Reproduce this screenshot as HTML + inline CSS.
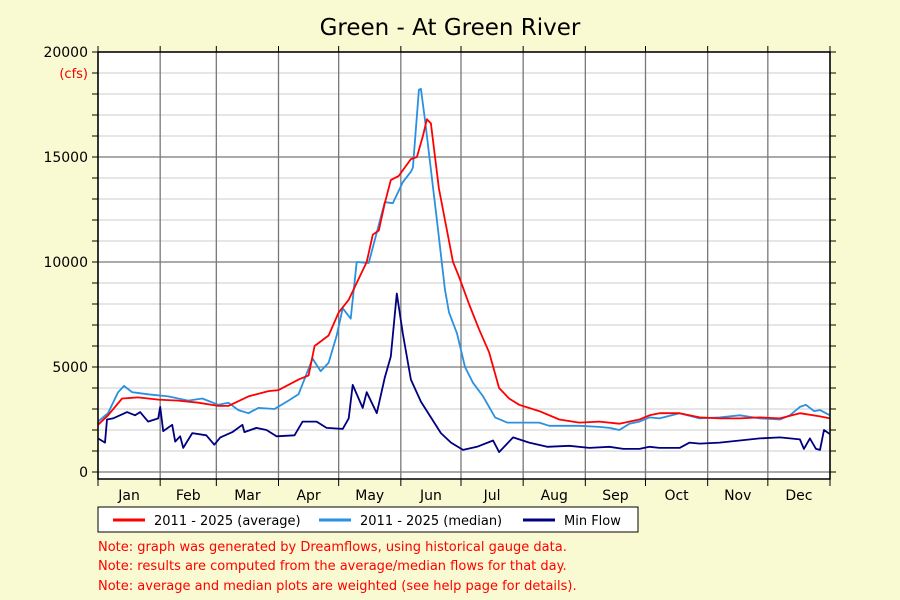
<!DOCTYPE html>
<html><head><meta charset="utf-8"><style>
body{margin:0;background:#fafad2;}
svg{display:block;font-family:"DejaVu Sans","Liberation Sans",sans-serif;}
</style></head><body>
<svg id="c" width="900" height="600" viewBox="0 0 900 600">
<rect width="900" height="600" fill="#fafad2"/>
<text x="450" y="35" font-size="23" text-anchor="middle" fill="#000">Green - At Green River</text>
<rect x="98" y="52" width="732" height="427" fill="#fff"/>
<g id="grid"></g>
<g id="series"></g>
<rect x="98" y="52" width="732" height="427" fill="none" stroke="#000" stroke-width="1.5"/>
<g id="axes"></g>
<text x="88" y="78" font-size="13" fill="#e00" text-anchor="end">(cfs)</text>
<g>
<rect x="98" y="507" width="540" height="25" fill="#fff" stroke="#000"/>
<line x1="113" y1="520" x2="145" y2="520" stroke="#f00" stroke-width="3"/>
<text x="154" y="525" font-size="13">2011 - 2025 (average)</text>
<line x1="319" y1="520" x2="351" y2="520" stroke="#2a90e0" stroke-width="3"/>
<text x="360" y="525" font-size="13">2011 - 2025 (median)</text>
<line x1="523" y1="520" x2="555" y2="520" stroke="#000080" stroke-width="3"/>
<text x="564" y="525" font-size="13">Min Flow</text>
</g>
<g font-size="13" fill="#f00">
<text x="98" y="551">Note: graph was generated by Dreamflows, using historical gauge data.</text>
<text x="98" y="570">Note: results are computed from the average/median flows for that day.</text>
<text x="98" y="590">Note: average and median plots are weighted (see help page for details).</text>
</g>
</svg>
<script>
const months=["Jan","Feb","Mar","Apr","May","Jun","Jul","Aug","Sep","Oct","Nov","Dec"];
const monthStartDays=[0,31,59,90,120,151,181,212,243,273,304,334,365];
const yTicks=[0,5000,10000,15000,20000];
const avgDays=[0,5,12,20,30,40,50,60,65,75,85,90,100,105,108,115,120,125,130,134,137,140,143,146,150,153,156,159,162,164,166,170,175,177,180,185,190,195,200,205,210,220,230,240,250,260,270,275,280,290,300,310,320,330,340,350,360,365];
const avgVals=[2250,2700,3500,3550,3450,3400,3300,3150,3150,3600,3850,3900,4400,4600,6000,6500,7600,8200,9200,10000,11300,11500,12800,13900,14100,14500,14900,15000,16000,16800,16600,13500,11000,10000,9300,8000,6800,5700,4000,3500,3200,2900,2500,2350,2400,2300,2500,2700,2800,2800,2600,2550,2550,2600,2550,2800,2650,2550];
const medDays=[0,5,10,13,17,25,35,45,52,60,65,70,75,80,88,95,100,107,111,115,119,122,126,129,135,143,147,152,156,157,160,161,163,169,173,175,179,183,187,192,198,204,210,220,225,240,250,255,260,265,270,275,280,290,300,310,320,330,340,345,350,353,357,360,365];
const medVals=[2400,2800,3800,4100,3800,3700,3600,3400,3500,3200,3300,2950,2800,3050,3000,3400,3700,5400,4800,5200,6500,7800,7300,10000,9950,12850,12800,13800,14300,14500,18200,18250,16800,12000,8700,7600,6600,5000,4250,3600,2600,2350,2350,2350,2200,2200,2150,2100,2000,2300,2400,2600,2550,2800,2550,2600,2700,2550,2500,2700,3100,3200,2900,2950,2700];
const minDays=[0,3.5,4.5,7.5,14.5,18.5,21,25,30,31,32.5,37,38.5,41,42.5,47,54,58,61,67,72,73,79,84,89,98,102,109,114,122,125,127,132,134,139,143,146,149,152,156,161,166,171,176,182,189,197,200,207,215,224,235,245,255,262,270,275,280,290,295,300,310,320,330,340,345,350,352,355,358,360,362,365];
const minVals=[1600,1400,2500,2550,2850,2700,2850,2400,2550,3100,1950,2250,1450,1700,1150,1850,1750,1300,1650,1900,2250,1900,2100,2000,1700,1750,2400,2400,2100,2050,2550,4150,3050,3800,2800,4500,5500,8500,6600,4400,3350,2600,1850,1400,1050,1200,1500,950,1650,1400,1200,1250,1150,1200,1100,1100,1200,1150,1150,1400,1350,1400,1500,1600,1650,1600,1550,1100,1600,1100,1050,2000,1800];
const X0=98,X1=830,Y0=472,PX=0.021;
const xs=d=>X0+d/365*(X1-X0);
const ys=v=>Y0-v*PX;
const NS="http://www.w3.org/2000/svg";
function mk(tag,attrs,parent){const e=document.createElementNS(NS,tag);for(const k in attrs)e.setAttribute(k,attrs[k]);parent.appendChild(e);return e;}
const grid=document.getElementById('grid'),axes=document.getElementById('axes'),ser=document.getElementById('series');
for(let v=0;v<=20000;v+=1000){
  const major=v%5000===0;
  const l=mk('line',{x1:X0,x2:X1,y1:ys(v),y2:ys(v),stroke:major?'#777':'#ccc','stroke-width':major?1.3:1},grid);
  
  
  const t1=mk('line',{x1:X0-6,x2:X0,y1:ys(v),y2:ys(v),stroke:'#000'},axes);
  
  
  const t2=mk('line',{x1:X1,x2:X1+6,y1:ys(v),y2:ys(v),stroke:'#000'},axes);
  
  
}
yTicks.forEach(v=>{
  const t=mk('text',{x:88,y:ys(v)+5,'font-size':14,'text-anchor':'end'},axes);
  t.textContent=v;
  
  
});
monthStartDays.forEach((d,i)=>{
  const x=xs(d);
  const g=mk('line',{x1:x,x2:x,y1:52,y2:479,stroke:'#777','stroke-width':1.3},grid);
  
  
  const t=mk('line',{x1:x,x2:x,y1:479,y2:486,stroke:'#000'},axes);
  
  
  const t2=mk('line',{x1:x,x2:x,y1:46,y2:52,stroke:'#000'},axes);
  
  
  if(i<12){
    const lb=mk('text',{x:xs((d+monthStartDays[i+1])/2),y:500,'font-size':14,'text-anchor':'middle'},axes);
    lb.textContent=months[i];
    
    
  }
});
function line(days,vals,color,name){
  const p=days.map((d,i)=>xs(d).toFixed(1)+','+ys(vals[i]).toFixed(1)).join(' ');
  const pl=mk('polyline',{points:p,fill:'none',stroke:color,'stroke-width':1.8,'stroke-linejoin':'round'},ser);
  
  
}
line(minDays,minVals,'#000080','min-flow-line');
line(medDays,medVals,'#2a90e0','median-line');
line(avgDays,avgVals,'#f00','average-line');
</script>
</body></html>
